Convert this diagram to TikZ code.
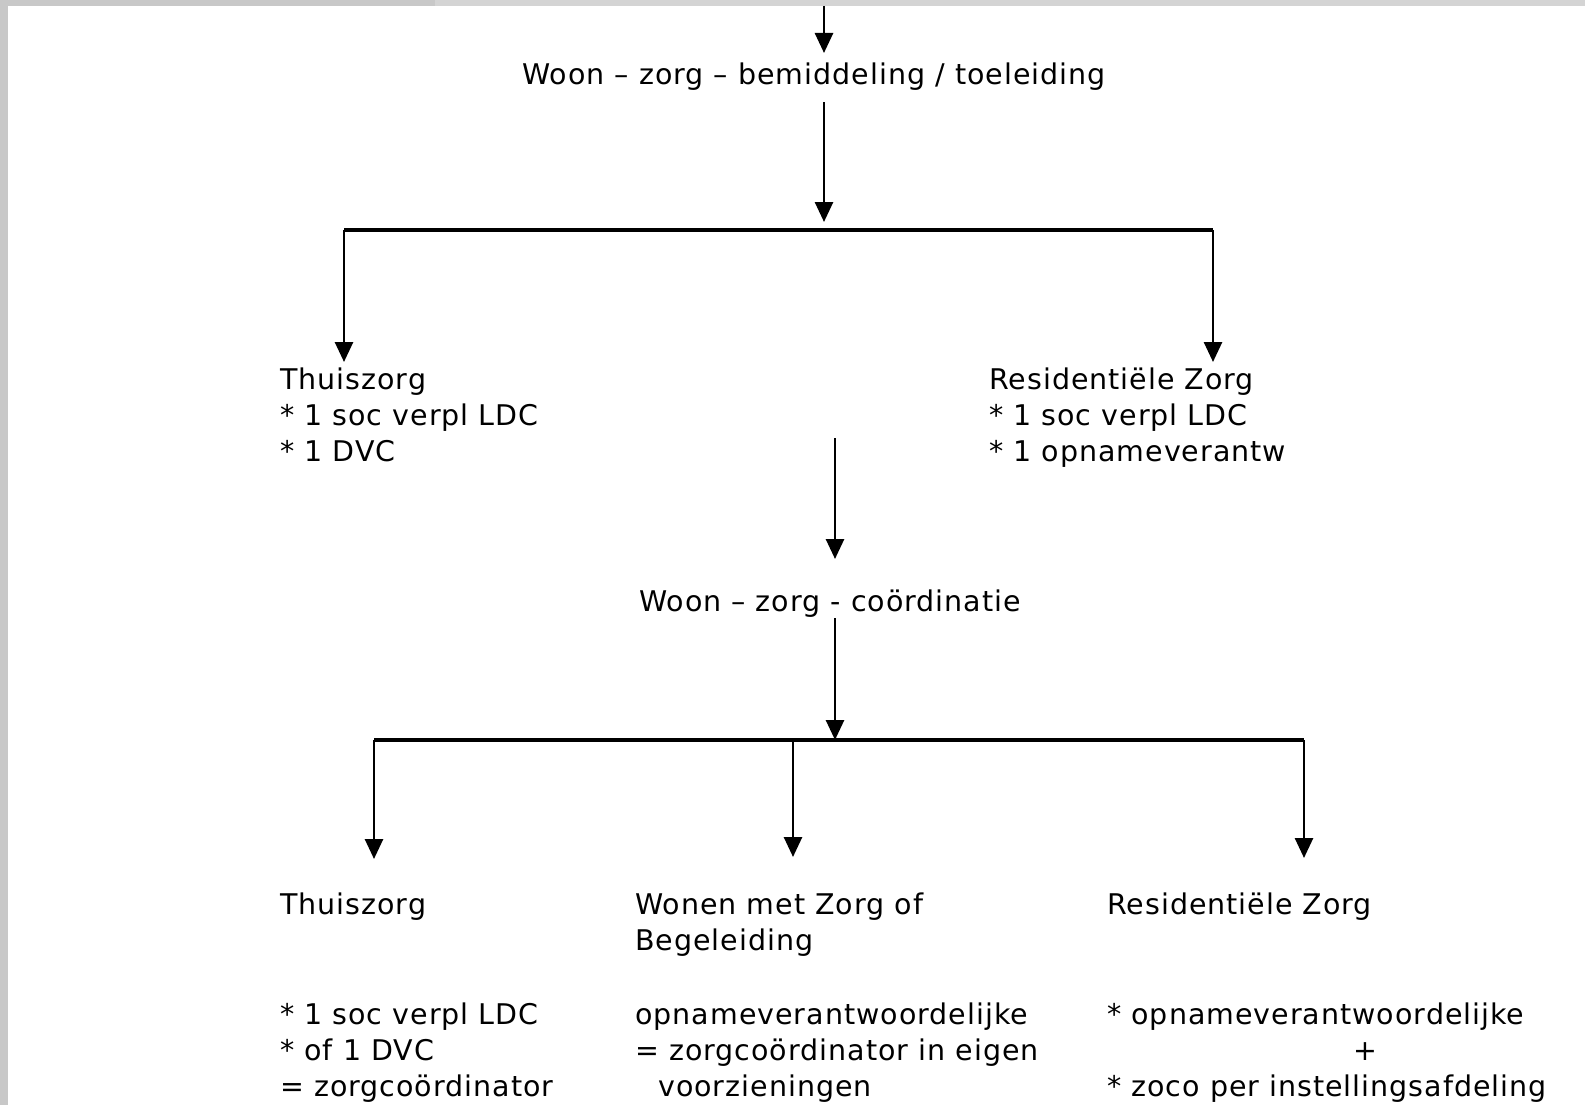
\documentclass[tikz,border=0pt]{standalone}
\usepackage{fontspec}
\setmainfont[LetterSpace=3.5]{DejaVu Sans}
\usetikzlibrary{arrows.meta, positioning}

\definecolor{edgegray}{RGB}{200,200,200}
\definecolor{topgray}{RGB}{212,212,212}
\newcommand{\schemafont}{\fontsize{28.5}{36.4}\selectfont}

\begin{document}
\begin{tikzpicture}[x=1pt, y=-1pt,
    txt/.style={align=left, inner sep=0pt, anchor=north west, font=\schemafont},
    arr/.style={line width=2.7pt, -{Triangle[length=20pt, width=18pt]}},
    bar/.style={line width=3.2pt}]
        \useasboundingbox (0,0) rectangle (1585,1105);
        % Page edge
        \fill[white] (0,0) rectangle (1585,1105);
        \fill[edgegray] (0,0) rectangle (8,1105);
        \fill[edgegray] (0,0) rectangle (435,6);
        \fill[topgray] (435,0) rectangle (1585,6);

        % Stages
        \node[txt, anchor=north] (bemid) at (814,62.3) {Woon – zorg – bemiddeling / toeleiding};
        \node[txt, anchor=north] (coord) at (830,589.3) {Woon – zorg - coördinatie};

        % First split
        \node[txt] (thuis1) at (280,367.3) {Thuiszorg\\* 1 soc verpl LDC\\* 1 DVC};
        \node[txt] (resid1) at (989,367.3) {Residentiële Zorg\\* 1 soc verpl LDC\\* 1 opnameverantw};

        % Second split
        \node[txt] (thuis2) at (280,892.3) {Thuiszorg};
        \node[txt] (wonen) at (635,892.3) {Wonen met Zorg of\\Begeleiding};
        \node[txt] (resid2) at (1107,892.3) {Residentiële Zorg};

        % Tasks
        \node[txt] (taak1) at (280,1002.3) {* 1 soc verpl LDC\\* of 1 DVC\\= zorgcoördinator};
        \node[txt] (taak2) at (635,1002.3) {opnameverantwoordelijke\\= zorgcoördinator in eigen\\\hspace*{23pt}voorzieningen};
        \node[txt] (taak3) at (1107,1002.3) {* opnameverantwoordelijke\\\hspace*{246pt}+\\* zoco per instellingsafdeling};

        % Junctions
        \coordinate (in) at (824,6);
        \coordinate (j1) at (824,230);
        \coordinate (l1) at (344,230);
        \coordinate (r1) at (1213,230);
        \coordinate (mid) at (835,438);
        \coordinate (j2) at (835,740);
        \coordinate (l2) at (374,740);
        \coordinate (m2) at (793,740);
        \coordinate (r2) at (1304,740);

        % Connections
        \draw[arr, shorten >=9.3pt] (in) -- (in |- bemid.north);
        \draw[arr, shorten <=12pt, shorten >=8pt] (bemid.south -| j1) -- (j1);
        \draw[bar] (l1) -- (r1);
        \draw[arr, shorten >=5.3pt] (l1) -- (l1 |- thuis1.north);
        \draw[arr, shorten >=5.3pt] (r1) -- (r1 |- resid1.north);
        \draw[arr, shorten >=30.3pt] (mid) -- (mid |- coord.north);
        \draw[arr, shorten <=1pt] (coord.south -| j2) -- (j2);
        \draw[bar] (l2) -- (r2);
        \draw[arr, shorten >=33.3pt] (l2) -- (l2 |- thuis2.north);
        \draw[arr, shorten >=35.3pt] (m2) -- (m2 |- wonen.north);
        \draw[arr, shorten >=34.3pt] (r2) -- (r2 |- resid2.north);
    \end{tikzpicture}
\end{document}
